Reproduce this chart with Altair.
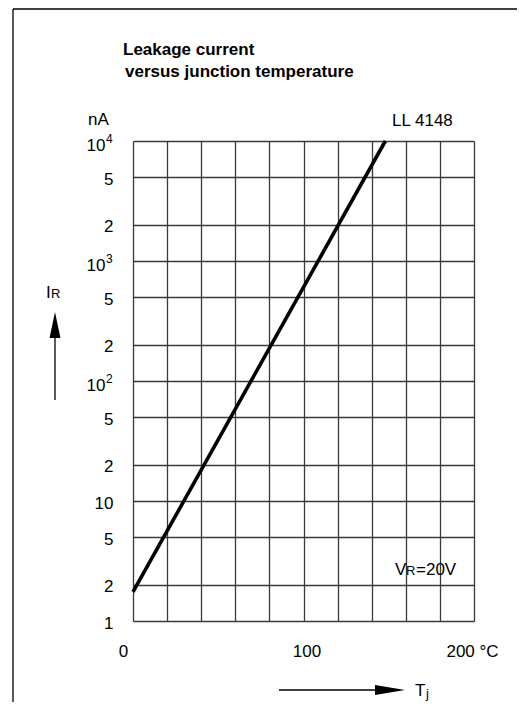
import altair as alt
import pandas as pd

# ---- data ----
temp_c = [0, 148]            # junction temperature Tj (°C)
leak_na = [1.75, 10000]      # leakage current IR (nA)

x_grid_values = [0, 20, 40, 60, 80, 100, 120, 140, 160, 180, 200]
x_label_values = [0, 100, 200]
x_label_texts = ["0", "100", "200 °C"]

y_tick_values = [1, 2, 5, 10, 20, 50, 100, 200, 500, 1000, 2000, 5000, 10000]
y_tick_labels = ["1", "2", "5", "10", "2", "5", "10", "2", "5", "10", "2", "5", "10"]
exp_values = [100, 1000, 10000]
exp_texts = ["2", "3", "4"]

FONT = "Liberation Sans"

df = pd.DataFrame({"T": temp_c, "IR": leak_na})
df_exp = pd.DataFrame({"v": exp_values, "e": exp_texts})

# label expressions built from the lists
x_expr = " : ".join(
    f"datum.value == {v} ? '{t}'" for v, t in zip(x_label_values, x_label_texts)
) + " : ''"
y_expr = " : ".join(
    f"datum.value == {v} ? '{t}'" for v, t in zip(y_tick_values, y_tick_labels)
) + " : ''"
exp_test = " || ".join(f"datum.value == {v}" for v in exp_values)

x_scale = alt.Scale(domain=[0, 200], nice=False, zero=False)
y_scale = alt.Scale(type="log", domain=[1, 10000], nice=False)

x_axis = alt.Axis(
    values=x_grid_values, labelExpr=x_expr, title=None, domain=False, ticks=False,
    grid=True, gridColor="#3a3a3a", gridWidth=1.3, labelFlush=False, labelOverlap=False,
    labelFont=FONT, labelFontSize=17, labelColor="black", labelPadding=30,
    labelBaseline="middle",
    labelOffset={"condition": [{"test": "datum.value == 0", "value": -10},
                               {"test": "datum.value == 100", "value": 3}],
                 "value": -2},
)
y_axis = alt.Axis(
    values=y_tick_values, labelExpr=y_expr, title=None, domain=False, ticks=False,
    grid=True, gridColor="#3a3a3a", gridWidth=1.3, labelFlush=False, labelOverlap=False,
    labelFont=FONT, labelFontSize=17, labelColor="black",
    labelPadding={"condition": {"test": exp_test, "value": 28}, "value": 20},
    labelBaseline="middle",
    labelOffset={"condition": {"test": exp_test, "value": 4}, "value": 2},
)

line = alt.Chart(df).mark_line(color="black", strokeWidth=3.6).encode(
    x=alt.X("T:Q", scale=x_scale, axis=x_axis),
    y=alt.Y("IR:Q", scale=y_scale, axis=y_axis),
)

exponents = alt.Chart(df_exp).mark_text(
    font=FONT, fontSize=12, align="left", baseline="alphabetic", color="black", dy=2
).encode(
    x=alt.value(-27),
    y=alt.Y("v:Q", scale=y_scale),
    text="e:N",
)

one = alt.Data(values=[{"a": 1}])

def txt(s, x, y, size=17, bold=False, align="left"):
    return alt.Chart(one).mark_text(
        text=s, font=FONT, fontSize=size, fontWeight="bold" if bold else "normal",
        align=align, baseline="alphabetic", color="black",
    ).encode(x=alt.value(x), y=alt.value(y))

def rule(x, y, x2=None, y2=None, w=1.3):
    enc = dict(x=alt.value(x), y=alt.value(y))
    if x2 is not None:
        enc["x2"] = alt.value(x2)
    if y2 is not None:
        enc["y2"] = alt.value(y2)
    return alt.Chart(one).mark_rule(color="black", strokeWidth=w).encode(**enc)

def head(path, x, y, size):
    return alt.Chart(one).mark_point(
        shape=path, filled=True, color="black", opacity=1, strokeWidth=0, size=size
    ).encode(x=alt.value(x), y=alt.value(y))

# plot origin is at page (133, 141)
layers = [
    line,
    exponents,
    # page frame
    rule(-120, -132, y2=570, w=1.3),
    rule(-120, -132, x2=384, w=1.3),
    # title
    txt("Leakage current", -10, -86, size=17, bold=True),
    txt("versus junction temperature", -8, -64, size=17, bold=True),
    # unit and part number
    txt("nA", -45, -16),
    txt("LL 4148", 259, -15),
    # y label with arrow
    txt("I", -87, 157),
    txt("R", -82, 157, size=13),
    rule(-78, 189, y2=259, w=1.3),
    head("M0,-1L0.42,1L-0.42,1Z", -78, 184, 676),
    # condition
    txt("V", 262, 434),
    txt("R", 273, 434, size=13),
    txt("=20V", 283, 434),
    # x label with arrow
    rule(146, 549, x2=248, w=1.3),
    head("M1,0L-1,0.33L-1,-0.33Z", 257, 549, 900),
    txt("T", 282, 555),
    txt("j", 293, 557, size=13),
]

chart = alt.layer(*layers).properties(
    width=341, height=480,
    autosize=alt.AutoSizeParams(type="none"),
    padding={"left": 125, "top": 133, "right": 43, "bottom": 81},
).configure_view(strokeWidth=0).configure(background="white")

chart.save("out.html", embed_options={"renderer": "svg", "actions": False})
